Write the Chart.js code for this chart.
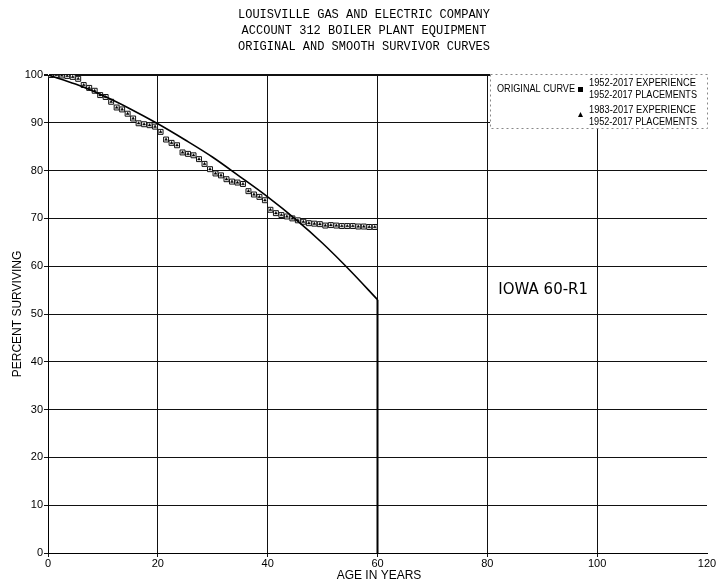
<!DOCTYPE html>
<html>
<head>
<meta charset="utf-8">
<script src="https://cdn.jsdelivr.net/npm/chart.js@4"></script>
<style>
html,body{margin:0;padding:0;background:#fff;}
#wrap{position:relative;width:717px;height:584px;}
</style>
</head>
<body>
<div id="wrap"><canvas id="c" width="717" height="584"></canvas></div>
<script>
const titleLines = ["LOUISVILLE GAS AND ELECTRIC COMPANY","ACCOUNT 312 BOILER PLANT EQUIPMENT","ORIGINAL AND SMOOTH SURVIVOR CURVES"];
const xTitle = "AGE IN YEARS";
const yTitle = "PERCENT SURVIVING";
const curveLabel = "IOWA 60-R1";
const xTicks = [0,20,40,60,80,100,120];
const yTicks = [0,10,20,30,40,50,60,70,80,90,100];

const ages = [0.5,1.5,2.5,3.5,4.5,5.5,6.5,7.5,8.5,9.5,10.5,11.5,12.5,13.5,14.5,15.5,16.5,17.5,18.5,19.5,
  20.5,21.5,22.5,23.5,24.5,25.5,26.5,27.5,28.5,29.5,30.5,31.5,32.5,33.5,34.5,35.5,36.5,37.5,38.5,39.5,
  40.5,41.5,42.5,43.5,44.5,45.5,46.5,47.5,48.5,49.5,50.5,51.5,52.5,53.5,54.5,55.5,56.5,57.5,58.5,59.5];
const surv1952 = [100,100,99.9,99.8,99.6,99.2,97.9,97.3,96.7,95.8,95.4,94.4,93.2,92.8,91.9,90.9,89.9,89.7,89.5,89.2,
  88.1,86.5,85.8,85.3,83.8,83.5,83.2,82.4,81.4,80.3,79.4,79.0,78.2,77.7,77.5,77.2,75.7,75.0,74.5,73.8,
  71.8,71.1,70.7,70.4,70.0,69.6,69.3,69.0,68.9,68.8,68.5,68.6,68.5,68.4,68.4,68.4,68.3,68.3,68.2,68.2];
const surv1983 = [100,100,99.9,99.8,99.6,99.2,97.9,97.3,96.7,95.8,95.4,94.4,93.2,92.8,91.9,90.9,89.9,89.7,89.5,89.2,
  88.1,86.5,85.8,85.3,83.8,83.5,83.2,82.4,81.4,80.3,79.4,79.0,78.2,77.7,77.5,77.2,75.7,75.0,74.5,73.8,
  71.8,71.1,70.7,70.4,70.0,69.6,69.3,69.0,68.9,68.8,68.5,68.6,68.5,68.4,68.4,68.4,68.3,68.3,68.2,68.2];
const curveAges = [0,5,10,15,20,25,30,35,40,45,50,55,60];
const curveSurv = [100,98.1,95.7,92.9,89.8,86.4,82.8,78.7,74.5,69.9,64.8,59.1,53.0];
const dropAges = [60,60];
const dropSurv = [53.0,0];

const toXY = (xs, ys) => xs.map((x,i)=>({x:x,y:ys[i]}));

const overlay = {
  id:'overlay',
  afterDraw(chart){
    const ctx = chart.ctx;
    const xs = chart.scales.x, ys = chart.scales.y;
    ctx.save();
    ctx.fillStyle = '#000';
    ctx.font = '12px "Liberation Mono", monospace';
    ctx.textAlign = 'center'; ctx.textBaseline = 'middle';
    titleLines.forEach((t,i)=>ctx.fillText(t, 364, 15 + i*16));
    ctx.font = '12px "Liberation Sans", Arial, sans-serif';
    ctx.fillText(xTitle, 379, 576);
    ctx.save();
    ctx.translate(18, 314);
    ctx.rotate(-Math.PI/2);
    ctx.fillText(yTitle, 0, 0);
    ctx.restore();
    ctx.font = '15px "DejaVu Sans", Verdana, sans-serif';
    ctx.textAlign = 'left';
    ctx.fillText(curveLabel, xs.getPixelForValue(82), ys.getPixelForValue(55));
    // legend box
    const bx = 490, by = 74, bw = 217, bh = 54;
    ctx.fillStyle = '#fff';
    ctx.fillRect(bx, by, bw, bh);
    ctx.strokeStyle = '#888';
    ctx.lineWidth = 1;
    ctx.setLineDash([2,3]);
    ctx.strokeRect(bx+0.5, by+0.5, bw, bh);
    ctx.setLineDash([]);
    ctx.fillStyle = '#000';
    ctx.font = '10px "Liberation Sans", Arial, sans-serif';
    ctx.textAlign = 'left';
    ctx.fillText(chart.data.datasets[0].label, 497, 89, 78);
    ctx.fillText(chart.data.datasets[1].label, 589, 83, 107);
    ctx.fillText(chart.data.datasets[1].sub, 589, 95, 108);
    ctx.fillText(chart.data.datasets[2].label, 589, 110, 107);
    ctx.fillText(chart.data.datasets[2].sub, 589, 122, 108);
    ctx.fillRect(578, 87, 5, 5);
    ctx.beginPath();
    ctx.moveTo(580.5, 112); ctx.lineTo(583, 117); ctx.lineTo(578, 117); ctx.closePath(); ctx.fill();
    ctx.restore();
  }
};

new Chart(document.getElementById('c'), {
  type: 'scatter',
  data: {
    datasets: [
      {label:'ORIGINAL CURVE', data: toXY(curveAges, curveSurv), showLine:true, borderColor:'#000', borderWidth:1.6,
        pointRadius:0, cubicInterpolationMode:'monotone', order:0},
      {label:'1952-2017 EXPERIENCE', sub:'1952-2017 PLACEMENTS', data: toXY(ages, surv1952), pointStyle:'rect',
        pointRadius:3.5, borderColor:'#111', borderWidth:1, backgroundColor:'#fff', order:2},
      {label:'1983-2017 EXPERIENCE', sub:'1952-2017 PLACEMENTS', data: toXY(ages, surv1983), pointStyle:'triangle',
        pointRadius:1.6, borderColor:'#000', borderWidth:0.5, backgroundColor:'#000', order:1},
      {label:'', data: toXY(dropAges, dropSurv), showLine:true, borderColor:'#000', borderWidth:2, pointRadius:0, order:0}
    ]
  },
  options: {
    responsive:false, animation:false,
    layout:{padding:{top:75,right:10,left:0,bottom:0}},
    plugins:{legend:{display:false}, tooltip:{enabled:false}, title:{display:false}},
    scales:{
      x:{
        type:'linear', min:0, max:120,
        afterBuildTicks:(s)=>{s.ticks = xTicks.map(v=>({value:v}));},
        afterFit:(s)=>{s.height = 31;},
        ticks:{color:'#000', padding:0, maxRotation:0, font:{family:'"Liberation Sans", Arial, sans-serif', size:11}},
        grid:{color:(c)=> c.tick && c.tick.value===120 ? 'rgba(0,0,0,0)' : '#111', lineWidth:1, tickLength:4, drawTicks:true},
        border:{color:'#000', width:1}
      },
      y:{
        type:'linear', min:0, max:100,
        afterBuildTicks:(s)=>{s.ticks = yTicks.map(v=>({value:v}));},
        afterFit:(s)=>{s.width = 48;},
        ticks:{color:'#000', padding:1, font:{family:'"Liberation Sans", Arial, sans-serif', size:11}},
        grid:{color:'#111', lineWidth:(c)=> c.tick && c.tick.value===100 ? 2 : 1, tickLength:4},
        border:{color:'#000', width:1}
      }
    }
  },
  plugins:[overlay]
});
</script>
</body>
</html>
